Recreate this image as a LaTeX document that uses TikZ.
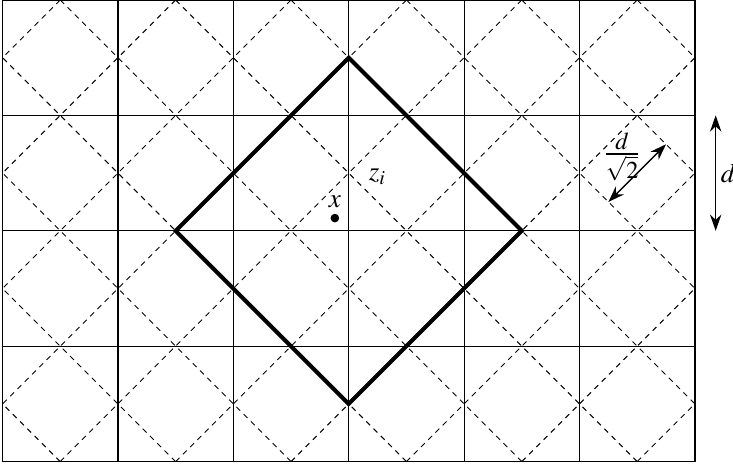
\documentclass[tikz,border=0pt]{standalone}
\usepackage{mathptmx}
\usetikzlibrary{arrows.meta}
\begin{document}
\begin{tikzpicture}[x=1.5cm,y=1.5cm,
  gridline/.style={line width=0.45pt},
  dashline/.style={line width=0.35pt,dash pattern=on 2pt off 1.8pt},
  bigsq/.style={line width=1.5pt,line join=miter},
  dimarrow/.style={line width=0.5pt,{Stealth[length=6pt,width=4.2pt]}-{Stealth[length=6pt,width=4.2pt]}}]
\useasboundingbox (-0.022,-0.043) rectangle (6.33,4.0);
\begin{scope}
\clip (0,0) rectangle (6,4);
\foreach \k in {0,...,9} {
  \draw[dashline] (\k+0.5,0) -- ++(-5,5);
}
\foreach \k in {-4,...,5} {
  \draw[dashline] (\k+0.5,0) -- ++(5,5);
}
\end{scope}
\foreach \i in {0,...,6} \draw[gridline] (\i,0) -- (\i,4);
\foreach \j in {0,...,4} \draw[gridline] (0,\j) -- (6,\j);
\coordinate (T) at (3,3.5);
\coordinate (L) at (1.5,2);
\coordinate (R) at (4.5,2);
\coordinate (B) at (3,0.5);
\draw[bigsq] (T) -- (R) -- (B) -- (L) -- cycle;
\fill (2.88,2.11) circle (1.6pt) coordinate (xdot);
\node (xl) at (2.88,2.25) {$x$};
\node (zi) at (3.25,2.47) {$z_i$};
\coordinate (a1) at (5.25,2.25);
\coordinate (a2) at (5.75,2.75);
\draw[dimarrow] (a1) -- (a2);
\node[inner sep=0pt,font=\large] (dfrac) at (5.37,2.64) {$\frac{d}{\sqrt{2}}$};
\coordinate (v1) at (6.18,3);
\coordinate (v2) at (6.18,2);
\draw[dimarrow] (v1) -- (v2);
\node (dl) at (6.29,2.5) {$d$};
\end{tikzpicture}
\end{document}
